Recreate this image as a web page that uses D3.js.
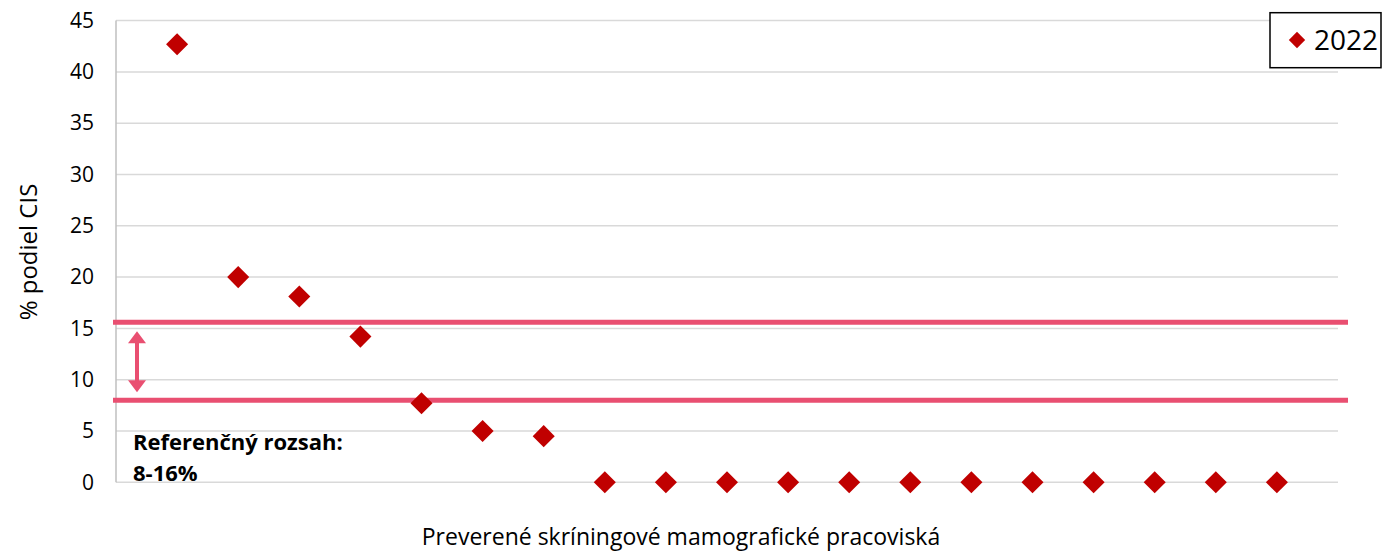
<!DOCTYPE html>
<html>
<head>
<meta charset="utf-8">
<script src="https://cdn.jsdelivr.net/npm/d3@7"></script>
<style>
  body { margin: 0; background: #fff; }
  text { font-family: "Open Sans", sans-serif; }
</style>
</head>
<body>
<div id="chart"></div>
<script>
// data
const sites = d3.range(1, 20);   // 19 screening sites, no names shown
const cisShare = [42.7, 20.0, 18.1, 14.2, 7.7, 5.0, 4.5, 0, 0, 0, 0, 0, 0, 0, 0, 0, 0, 0, 0];
const yTicks = [0, 5, 10, 15, 20, 25, 30, 35, 40, 45];
const refLines = [15.6, 8.0];
const seriesName = "2022";

const width = 1383, height = 552;
const margin = {top: 20.6, right: 45, bottom: 69.7, left: 116};
const font = "'Open Sans', sans-serif";

const svg = d3.select("#chart").append("svg")
    .attr("width", width)
    .attr("height", height);

const x = d3.scaleLinear().domain([0, 20]).range([margin.left, width - margin.right]);
const y = d3.scaleLinear().domain([0, 45]).range([height - margin.bottom, margin.top]);

// gridlines
svg.append("g")
    .selectAll("line")
    .data(yTicks)
    .enter()
    .append("line")
    .attr("x1", margin.left)
    .attr("x2", width - margin.right)
    .attr("y1", d => y(d))
    .attr("y2", d => y(d))
    .attr("stroke", "#d9d9d9")
    .attr("stroke-width", 1.5);

// y axis line
svg.append("line")
    .attr("x1", margin.left).attr("x2", margin.left)
    .attr("y1", y(0)).attr("y2", y(45))
    .attr("stroke", "#bfbfbf")
    .attr("stroke-width", 1.5);

// y tick labels
let y_axis = svg.append("g")
    .attr("transform", "translate(" + margin.left + ",0)")
    .call(d3.axisLeft(y).tickValues(yTicks).tickSize(0).tickPadding(22));
y_axis.select(".domain").remove();
y_axis.selectAll("text")
    .style("font-size", "21px")
    .style("font-family", font)
    .attr("fill", "#000");

// axis titles
svg.append("text")
    .attr("transform", "translate(37,252) rotate(-90)")
    .attr("text-anchor", "middle")
    .style("font-size", "24px")
    .text("% podiel CIS");

svg.append("text")
    .attr("x", 681)
    .attr("y", 545)
    .attr("text-anchor", "middle")
    .style("font-size", "23px")
    .text("Preverené skríningové mamografické pracoviská");

// reference range lines
const pink = "#e94f71";
svg.append("g")
    .selectAll("line")
    .data(refLines)
    .enter()
    .append("line")
    .attr("x1", margin.left - 3)
    .attr("x2", width - margin.right + 10)
    .attr("y1", d => y(d))
    .attr("y2", d => y(d))
    .attr("stroke", pink)
    .attr("stroke-width", 5);

// double arrow between the reference lines
const ax = 137;
const aTop = y(refLines[0]) + 9, aBot = y(refLines[1]) - 8;
svg.append("line")
    .attr("x1", ax).attr("x2", ax)
    .attr("y1", aTop + 10).attr("y2", aBot - 10)
    .attr("stroke", pink)
    .attr("stroke-width", 4);
svg.append("path")
    .attr("d", `M${ax},${aTop} L${ax + 9},${aTop + 12} L${ax - 9},${aTop + 12} Z`)
    .attr("fill", pink);
svg.append("path")
    .attr("d", `M${ax},${aBot} L${ax + 9},${aBot - 12} L${ax - 9},${aBot - 12} Z`)
    .attr("fill", pink);

// annotation
let note = svg.append("text")
    .attr("x", 133)
    .attr("y", 450)
    .style("font-size", "22px")
    .style("font-weight", "bold");
note.append("tspan").attr("x", 133).text("Referenčný rozsah:");
note.append("tspan").attr("x", 133).attr("dy", 31).text("8-16%");

// points
const diamond = d3.symbol().type(d3.symbolDiamond2).size(310);
svg.append("g")
    .selectAll("path")
    .data(sites)
    .enter()
    .append("path")
    .attr("d", diamond)
    .attr("transform", (d, i) => "translate(" + x(d) + "," + y(cisShare[i]) + ")")
    .attr("fill", "#c00000");

// legend
const legend = svg.append("g");
legend.append("rect")
    .attr("x", 1270).attr("y", 12.7)
    .attr("width", 111).attr("height", 55)
    .attr("fill", "#fff")
    .attr("stroke", "#000")
    .attr("stroke-width", 1.5);
legend.append("path")
    .attr("d", d3.symbol().type(d3.symbolDiamond2).size(170))
    .attr("transform", "translate(1297,40)")
    .attr("fill", "#c00000");
legend.append("text")
    .attr("x", 1314)
    .attr("y", 50)
    .style("font-size", "28px")
    .text(seriesName);
</script>
</body>
</html>
